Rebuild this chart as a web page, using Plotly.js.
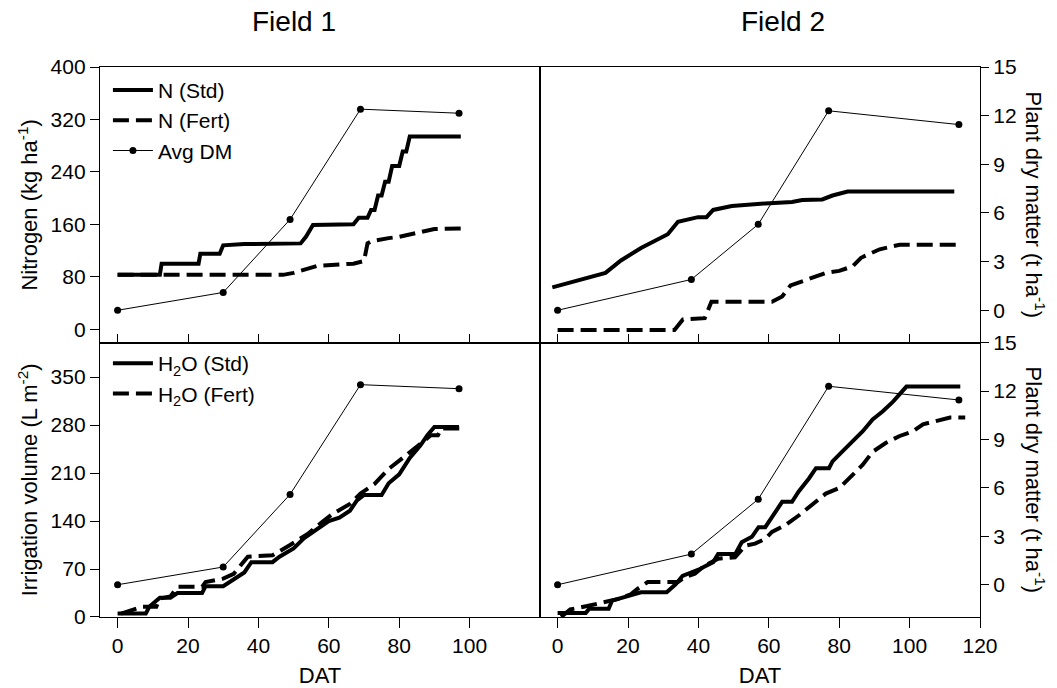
<!DOCTYPE html>
<html>
<head>
<meta charset="utf-8">
<script src="https://cdn.plot.ly/plotly-3.0.1.min.js"></script>
<style>html,body{margin:0;padding:0;background:#fff;}#chart{width:1057px;height:688px;}</style>
</head>
<body>
<div id="chart"></div>
<script>
// ---- Data (DAT = days after transplanting) ----
// Field 1 nitrogen (kg/ha)
const n1StdX = [0,12,12.5,23,23.5,29,30,36,52,53.5,55.5,67,68.5,71,72,73,74,75,76,77,78,80,81,82,83,97.5];
const n1StdY = [83,83,100,100,115,115,128,130,131,141,159,160,170,170,182,182,204,204,225,225,249,249,271,271,294,294];
const n1FertX = [0,47,50,54,57,67,70,71,72,77,80,85,90,99];
const n1FertY = [83,83,86,92,97,100,104,131,134,139,141,147,153,154];
// Field 2 nitrogen (kg/ha)
const n2StdX = [-1.5,13.6,18,23.7,31.3,34.2,39.9,42.3,44.2,49.5,59,66.6,69.5,75.2,78.1,82.4,112.7];
const n2StdY = [64,86,105,124,145,164,171,171,182,188,192,194,197,198,204,210,210];
const n2FertX = [0,33.2,35.6,41.8,43.7,60.9,63.8,66.2,70.5,76.2,80,83.8,86.2,91.5,97.2,113.9];
const n2FertY = [-1,-1,15,17,42,42,50,67,75,86,89,96,109,122,129,129];
// Average plant dry matter (t/ha)
const dm1X = [0,30,49,69,97];
const dm1Y = [0,1.1,5.6,12.4,12.15];
const dm2X = [0,38,57,77,114];
const dm2Y = [0,1.9,5.3,12.3,11.45];
// Field 1 irrigation volume (L/m2)
const w1StdX = [0,8,9,12,15,17,24,25,30,33,36,38,44,46,50,53,56,60,63,66,68,70,75,77,80,83,86,88,90,97];
const w1StdY = [5,5,15,28,28,35,35,45,45,55,65,80,80,88,100,115,125,140,145,155,170,178,178,195,208,232,250,265,277,277];
const w1FertX = [1,3,7,11,12,15,17,24,25,30,33,37,44,49,54,58,61,66,69,73,77,81,86,89,91,92,99];
const w1FertY = [5,8,15,15,27,30,44,44,51,56,63,88,90,105,121,138,150,165,180,194,216,232,252,265,265,275,275];
// Field 2 irrigation volume (L/m2)
const w2StdX = [0,8,9,14.5,15.5,20.8,23.7,31,33.6,35.5,40.4,44.2,45.6,50.5,52.3,55.2,57.1,59,60.9,63.8,66.6,68.5,71.4,73.4,77.1,78.1,81,83.8,86.7,89.5,92.4,95.3,97.2,99.1,114.4];
const w2StdY = [6,6,12,12,24,31,36,36,48,60,70,80,92,92,109,117,131,131,146,168,168,183,202,217,217,227,242,256,271,288,300,314,325,336,336];
const w2FertX = [1,3.6,8.4,13.2,17,20.8,22.7,25.6,34.2,36.1,39,41.8,45.6,50.4,53.3,56.1,59,60.9,64.7,68.5,73.3,76.2,80,83.8,86.7,89.5,93.3,97.2,101,103.8,108.6,111.5,115.8];
const w2FertY = [0,11,16,21,26,33,41,51,51,58,63,75,85,87,104,107,114,124,134,148,168,180,188,207,222,241,254,264,271,281,288,291,291];

// Tick labels
const datTicks1 = [0,20,40,60,80,100];
const datTicks2 = [0,20,40,60,80,100,120];
const nTicks = [0,80,160,240,320,400];
const wTicks = [0,70,140,210,280,350];
const dmTicks = [0,3,6,9,12,15];

// Labels
const labNStd = 'N (Std)', labNFert = 'N (Fert)', labDM = 'Avg DM';
const labWStd = 'H<sub>2</sub>O (Std)', labWFert = 'H<sub>2</sub>O (Fert)';

const K = '#000';
const thick = {color: K, width: 4};
const dashed = {color: K, width: 4, dash: '16px,7px'};
const thin = {color: K, width: 1};
const dot = {color: K, size: 7};

const traces = [
  {x: n1StdX, y: n1StdY, xaxis: 'x', yaxis: 'y', mode: 'lines', line: thick, name: labNStd, legend: 'legend'},
  {x: n1FertX, y: n1FertY, xaxis: 'x', yaxis: 'y', mode: 'lines', line: dashed, name: labNFert, legend: 'legend'},
  {x: dm1X, y: dm1Y, xaxis: 'x', yaxis: 'y2', mode: 'lines+markers', line: thin, marker: dot, name: labDM, legend: 'legend'},
  {x: n2StdX, y: n2StdY, xaxis: 'x2', yaxis: 'y3', mode: 'lines', line: thick, showlegend: false},
  {x: n2FertX, y: n2FertY, xaxis: 'x2', yaxis: 'y3', mode: 'lines', line: dashed, showlegend: false},
  {x: dm2X, y: dm2Y, xaxis: 'x2', yaxis: 'y4', mode: 'lines+markers', line: thin, marker: dot, showlegend: false},
  {x: w1StdX, y: w1StdY, xaxis: 'x3', yaxis: 'y5', mode: 'lines', line: thick, name: labWStd, legend: 'legend2'},
  {x: w1FertX, y: w1FertY, xaxis: 'x3', yaxis: 'y5', mode: 'lines', line: dashed, name: labWFert, legend: 'legend2'},
  {x: dm1X, y: dm1Y, xaxis: 'x3', yaxis: 'y6', mode: 'lines+markers', line: thin, marker: dot, showlegend: false},
  {x: w2StdX, y: w2StdY, xaxis: 'x4', yaxis: 'y7', mode: 'lines', line: thick, showlegend: false},
  {x: w2FertX, y: w2FertY, xaxis: 'x4', yaxis: 'y7', mode: 'lines', line: dashed, showlegend: false},
  {x: dm2X, y: dm2Y, xaxis: 'x4', yaxis: 'y8', mode: 'lines+markers', line: thin, marker: dot, showlegend: false}
];

const FONT = 'Liberation Sans, Arial, sans-serif';
const base = {showline: true, linecolor: K, linewidth: 1.3, mirror: true, showgrid: false, zeroline: false,
  tickcolor: K, tickwidth: 1.3, tickfont: {family: FONT, size: 21, color: K}, fixedrange: true};
const xr = [-5, 120];
const yTop = [0.4987, 1], yBot = [0, 0.4987];

const layout = {
  width: 1057, height: 688,
  margin: {l: 100, r: 77, t: 67, b: 71},
  paper_bgcolor: '#fff', plot_bgcolor: '#fff',
  font: {family: FONT, size: 21, color: K},
  xaxis: Object.assign({}, base, {domain: [0, 0.5], anchor: 'y', range: xr, tickvals: datTicks1, ticks: 'inside', ticklen: 9, showticklabels: false}),
  xaxis2: Object.assign({}, base, {domain: [0.5, 1], anchor: 'y3', range: xr, tickvals: datTicks2.slice(0, 6), ticks: 'inside', ticklen: 9, showticklabels: false}),
  xaxis3: Object.assign({}, base, {domain: [0, 0.5], anchor: 'y5', range: xr, tickvals: datTicks1, ticks: 'outside', ticklen: 10,
    title: {text: 'DAT', font: {family: FONT, size: 22, color: K}, standoff: 12}}),
  xaxis4: Object.assign({}, base, {domain: [0.5, 1], anchor: 'y7', range: xr, tickvals: datTicks2, ticks: 'outside', ticklen: 10,
    title: {text: 'DAT', font: {family: FONT, size: 22, color: K}, standoff: 12}}),
  yaxis: Object.assign({}, base, {domain: yTop, anchor: 'x', range: [-20.5, 400], tickvals: nTicks, ticks: 'outside', ticklen: 9,
    title: {text: 'Nitrogen (kg ha<sup>-1</sup>)', font: {family: FONT, size: 22, color: K}, standoff: 6}}),
  yaxis2: {overlaying: 'y', anchor: 'x', side: 'right', range: [-2, 15], visible: false, fixedrange: true},
  yaxis3: Object.assign({}, base, {domain: yTop, anchor: 'x2', range: [-20.5, 400], ticks: '', showticklabels: false}),
  yaxis4: Object.assign({}, base, {overlaying: 'y3', anchor: 'x2', side: 'right', range: [-2, 15], tickvals: dmTicks, ticks: 'outside', ticklen: 8, mirror: false}),
  yaxis5: Object.assign({}, base, {domain: yBot, anchor: 'x3', range: [0, 400], tickvals: wTicks, ticks: 'outside', ticklen: 9,
    title: {text: 'Irrigation volume (L m<sup>-2</sup>)', font: {family: FONT, size: 22, color: K}, standoff: 6}}),
  yaxis6: {overlaying: 'y5', anchor: 'x3', side: 'right', range: [-2, 15], visible: false, fixedrange: true},
  yaxis7: Object.assign({}, base, {domain: yBot, anchor: 'x4', range: [0, 400], ticks: '', showticklabels: false}),
  yaxis8: Object.assign({}, base, {overlaying: 'y7', anchor: 'x4', side: 'right', range: [-2, 15], tickvals: dmTicks, ticks: 'outside', ticklen: 8, mirror: false}),
  legend: {x: 0.009, y: 0.995, xanchor: 'left', yanchor: 'top', bgcolor: 'rgba(0,0,0,0)', font: {family: FONT, size: 21, color: K}, tracegroupgap: 0, itemwidth: 40},
  legend2: {x: 0.009, y: 0.498, xanchor: 'left', yanchor: 'top', bgcolor: 'rgba(0,0,0,0)', font: {family: FONT, size: 21, color: K}, tracegroupgap: 0, itemwidth: 40},
  annotations: [
    {text: 'Field 1', xref: 'paper', yref: 'paper', x: 0.2205, y: 1.083, xanchor: 'center', yanchor: 'middle', showarrow: false, font: {family: FONT, size: 28, color: K}},
    {text: 'Field 2', xref: 'paper', yref: 'paper', x: 0.776, y: 1.083, xanchor: 'center', yanchor: 'middle', showarrow: false, font: {family: FONT, size: 28, color: K}},
    {text: 'Plant dry matter (t ha<sup>-1</sup>)', xref: 'paper', yref: 'paper', x: 1.063, y: 0.749, xanchor: 'center', yanchor: 'middle', textangle: 90, showarrow: false, font: {family: FONT, size: 22, color: K}},
    {text: 'Plant dry matter (t ha<sup>-1</sup>)', xref: 'paper', yref: 'paper', x: 1.063, y: 0.249, xanchor: 'center', yanchor: 'middle', textangle: 90, showarrow: false, font: {family: FONT, size: 22, color: K}}
  ],
  showlegend: true
};

Plotly.newPlot('chart', traces, layout, {displayModeBar: false, responsive: false});
</script>
</body>
</html>
